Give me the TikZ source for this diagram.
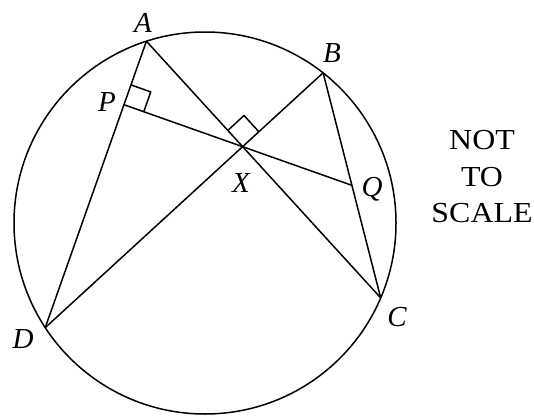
\documentclass[tikz,border=0pt]{standalone}
\usepackage{fontspec}
\setmainfont{Liberation Serif}
\usetikzlibrary{calc}
\begin{document}
\begin{tikzpicture}[x=1pt,y=-1pt,line width=1.5pt,line join=round,
  lbl/.style={font=\fontsize{29}{29}\selectfont\itshape,inner sep=0pt},
  note/.style={font=\fontsize{29}{36.5}\selectfont,align=center,inner sep=0pt,xscale=1.1}]
\useasboundingbox (0,0) rectangle (534,415);
\coordinate (O) at (205,223);
\draw (O) circle[radius=191];
\coordinate (A) at (146.4,41.2);
\coordinate (B) at (323.1,72.8);
\coordinate (C) at (380.7,297.9);
\coordinate (D) at (45.2,327.7);
\coordinate (X) at (intersection of A--C and B--D);
\coordinate (P) at ($(A)!(X)!(D)$);
\coordinate (Q) at ($(B)!0.5!(C)$);
\draw (A) -- (C);
\draw (B) -- (D);
\draw (A) -- (D);
\draw (B) -- (C);
\draw (P) -- (Q);
% right angle at P
\coordinate (P1) at ($(P)!21pt!(A)$);
\coordinate (P3) at ($(P)!21pt!(X)$);
\draw (P1) -- ($(P1)+(P3)-(P)$) -- (P3);
% right angle at X
\coordinate (X1) at ($(X)!22pt!(A)$);
\coordinate (X3) at ($(X)!22pt!(B)$);
\draw (X1) -- ($(X1)+(X3)-(X)$) -- (X3);
% labels
\node[lbl] (lA) at (143,23) {A};
\node[lbl] (lB) at (332,53) {B};
\node[lbl] (lP) at (107,102) {P};
\node[lbl] (lX) at (241,183) {X};
\node[lbl] (lQ) at (372,189) {Q};
\node[lbl] (lC) at (397,317) {C};
\node[lbl] (lD) at (23,339) {D};
\node[note] (nts) at (482,177) {NOT\\TO\\SCALE};
\end{tikzpicture}
\end{document}
